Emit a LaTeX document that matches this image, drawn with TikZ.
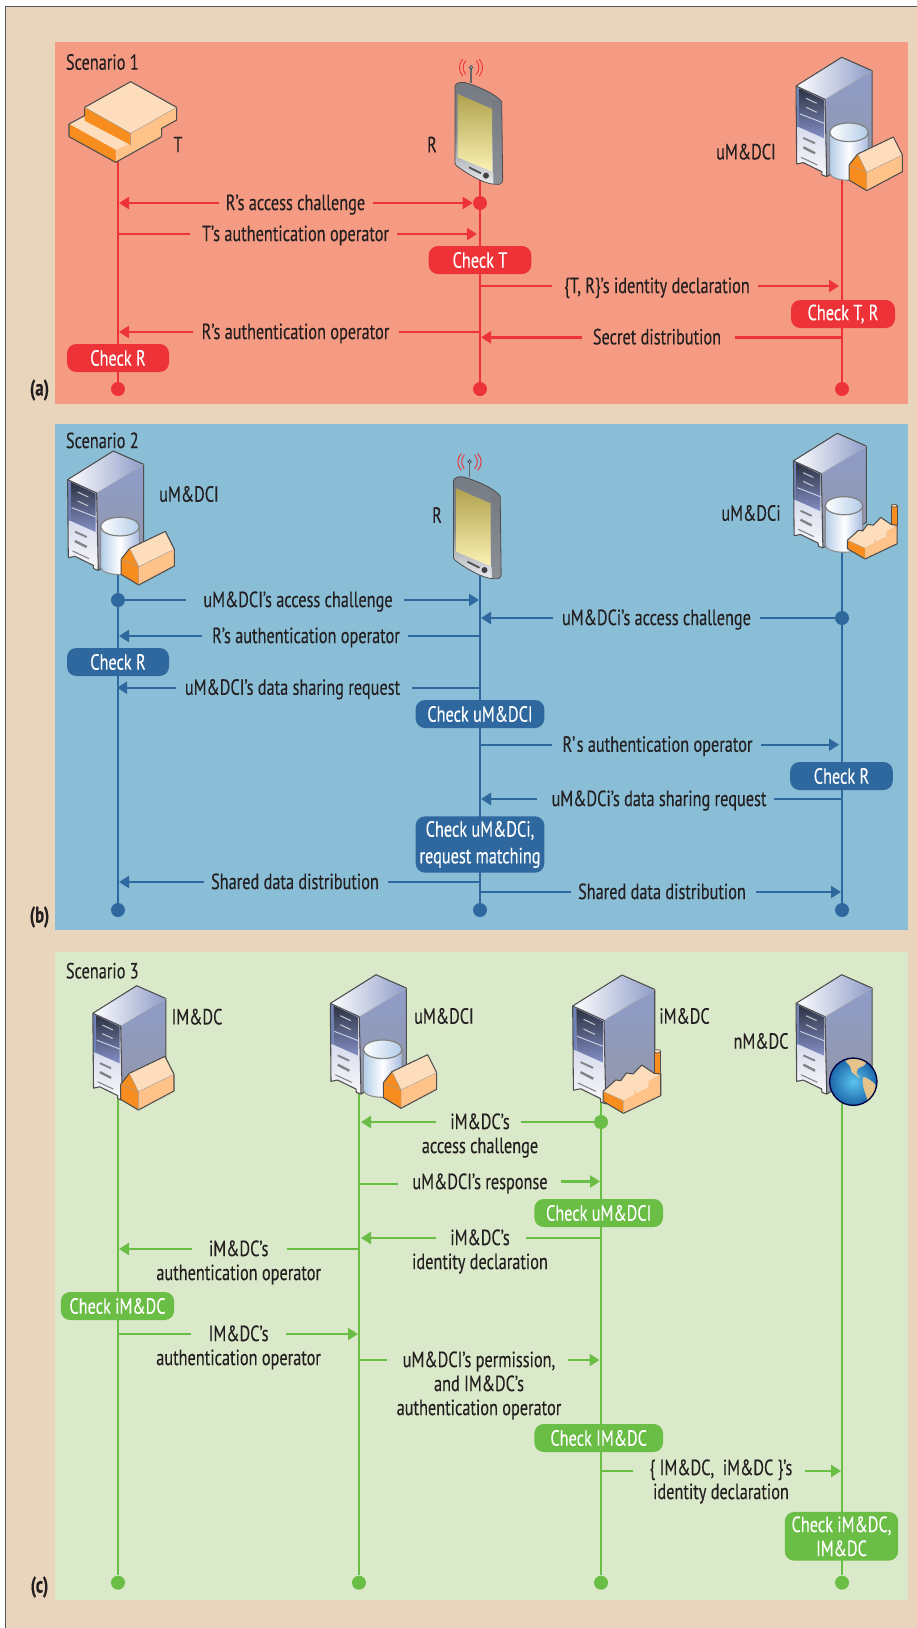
\documentclass[tikz,border=0pt]{standalone}
\usepackage{fontspec}
\setmainfont{PT Sans}[FakeStretch=0.74,FakeBold=0.15]
\usetikzlibrary{arrows.meta}
\definecolor{pagebg}{HTML}{E9D5BC}
\definecolor{framec}{HTML}{58595B}
\definecolor{panela}{HTML}{F59B84}
\definecolor{panelb}{HTML}{8ABDD6}
\definecolor{panelc}{HTML}{DAE9C9}
\definecolor{reda}{HTML}{EE3338}
\definecolor{blueb}{HTML}{2E689F}
\definecolor{greenc}{HTML}{6ABD45}
\definecolor{inkc}{HTML}{231F20}
\definecolor{edgec}{HTML}{4D4D4D}
\definecolor{orangec}{HTML}{F78D1E}
\definecolor{sidec}{HTML}{FFC288}
\definecolor{topc}{HTML}{FDDDBB}
\definecolor{srvtop}{RGB}{142,156,200}
\definecolor{srvbot}{RGB}{147,151,168}
\definecolor{srvfa}{RGB}{190,196,226}
\definecolor{srvfb}{RGB}{248,248,250}
\definecolor{srvstrip}{RGB}{112,130,186}
\definecolor{srvda}{RGB}{44,50,66}
\definecolor{srvdb}{RGB}{132,144,198}
\definecolor{srvln}{RGB}{205,210,230}
\definecolor{srvsl}{RGB}{192,196,204}
\definecolor{srvgr}{RGB}{128,130,133}
\definecolor{cyla}{RGB}{178,204,232}
\definecolor{cylb}{RGB}{165,186,224}
\definecolor{globea}{RGB}{90,195,236}
\definecolor{globeb}{RGB}{28,104,172}
\definecolor{landc}{RGB}{229,195,138}
\definecolor{phonea}{RGB}{118,122,130}
\definecolor{phoneb}{RGB}{130,134,142}
\definecolor{phonec}{RGB}{236,238,240}
\definecolor{phoned}{RGB}{140,145,152}
\definecolor{scra}{RGB}{176,162,78}
\definecolor{scrb}{RGB}{251,242,180}
\newcommand{\lblnode}[4]{\node[lbl] (#1) at (#2,{#3-10}) {\rule{0pt}{12.6pt}#4};}
\newcommand{\msgto}[6]{% id, start x, gap x 1, gap x 2, tip x, y
  \coordinate (#1a) at (#2,#6); \coordinate (#1b) at (#3,#6);
  \coordinate (#1c) at (#4,#6); \coordinate (#1d) at (#5,#6);
  \draw[msgline] (#1a) -- (#1b);
  \draw[msgline,-{Triangle[length=7.5pt,width=9pt]}] (#1c) -- (#1d);}
\tikzset{
  lbl/.style={inner sep=0pt,align=center,text=inkc,font=\fontsize{16.5}{18}\selectfont,anchor=north},
  namelbl/.style={inner sep=0pt,text=inkc,font=\fontsize{16.5}{18}\selectfont},
  tag/.style={inner sep=0pt,text=inkc,font=\fontsize{17}{18}\selectfont\bfseries},
  pill/.style={rectangle,rounded corners=7pt,inner sep=0pt,fill=#1,text=white,align=center,font=\fontsize{16.5}{18}\selectfont},
  enddot/.style={circle,fill=#1,inner sep=0pt,minimum size=10.5pt},
  msgline/.style={line width=1.8pt},
  life/.style={line width=2.1pt},
  icon/.style={line width=.8pt,draw=edgec,line join=round},
  iconserver/.pic={\begin{scope}[x=.25pt,y=-.25pt,shift={(-425,-52)}]
    \shade[left color=white,right color=srvtop] (288,138)--(425,52)--(516,92)--(375,178)--cycle;
    \shade[top color=srvtop,bottom color=srvbot] (375,178)--(516,92)--(516,330)--(380,410)--cycle;
    \shade[top color=srvfa,bottom color=srvfb] (288,138)--(375,178)--(380,410)--(366,405)--(365,395)--(310,368)--(290,372)--cycle;
    \fill[srvstrip] (289,140)--(298,145)--(298,262)--(289,260)--cycle;
    \shade[top color=srvda,bottom color=srvdb] (298,145)--(372,180)--(372,295)--(298,262)--cycle;
    \draw[line width=.7pt,srvln] (300,222)--(372,250);
    \draw[line width=.8pt,srvsl] (318,175)--(350,190) (318,202)--(350,217);
    \draw[line width=1.4pt,srvgr] (310,294)--(345,310);
    \draw[line width=1.8pt,srvgr] (310,322)--(345,340);
    \draw[line width=.8pt,srvgr] (303,352)--(352,375);
    \draw[icon] (288,138)--(425,52)--(516,92)--(516,330)--(380,410)--(366,405)--(365,395)--(310,368)--(290,372)--cycle;
    \draw[icon] (288,138)--(375,178)--(380,410);
    \draw[line width=.3pt,draw=white!70!black] (375,178)--(516,92);
  \end{scope}},
  iconcyl/.pic={\begin{scope}[x=.25pt,y=-.25pt,shift={(-447,-277)}]
    \shade[left color=cyla,right color=cylb,middle color=white]
      (389,277)--(389,400) .. controls (395,428) and (499,428) .. (505,400)--(505,277)--cycle;
    \draw[line width=.8pt,draw=black!45] (389,277)--(389,400) .. controls (395,428) and (499,428) .. (505,400)--(505,277);
    \shade[left color=white,right color=cyla,draw=black!50,line width=.9pt] (447,277) ellipse[x radius=58,y radius=28];
  \end{scope}},
  iconhouse/.pic={\begin{scope}[x=.25pt,y=-.25pt,shift={(-500,-452)}]
    \fill[sidec] (500,397)--(607,345)--(607,395)--(500,452)--cycle;
    \fill[topc] (473,342)--(580,291)--(607,345)--(500,397)--cycle;
    \fill[orangec] (447,375)--(473,342)--(500,397)--(500,452)--(447,420)--cycle;
    \draw[icon] (447,375)--(473,342)--(580,291)--(607,345)--(607,395)--(500,452)--(447,420)--cycle;
    \draw[line width=.3pt,draw=black!40] (473,342)--(500,397)--(607,345) (500,397)--(500,452) (447,375)--(500,397);
  \end{scope}},
  iconfactory/.pic={\begin{scope}[x=.25pt,y=-.25pt,shift={(-103,-218)}]
    \fill[orangec,draw=edgec,line width=.5pt] (195,32)--(195,105)--(215,105)--(215,32)--cycle;
    \fill[topc,draw=edgec,line width=.5pt] (205,32) ellipse[x radius=10,y radius=5];
    \fill[topc] (42,152)--(80,118)--(95,120)--(112,97)--(132,100)--(158,73)--(195,98)--(215,100)--(178,122)--(178,140)--(143,158)--(137,148)--(135,162)--(103,180)--cycle;
    \fill[sidec] (103,180)--(135,162)--(137,148)--(143,158)--(178,140)--(178,122)--(215,100)--(215,165)--(103,218)--cycle;
    \fill[orangec] (42,152)--(103,180)--(103,218)--(42,182)--cycle;
    \draw[icon] (42,152)--(80,118)--(95,120)--(112,97)--(132,100)--(158,73)--(195,98)--(215,100)--(215,165)--(103,218)--(42,182)--cycle;
    \draw[line width=.3pt,draw=black!30] (42,152)--(103,180)--(103,218);
  \end{scope}},
  iconglobe/.pic={\begin{scope}[x=.25pt,y=-.25pt,shift={(-460,-425)}]
    \shade[inner color=globea,outer color=globeb] (460,425) circle[radius=71];
    \fill[landc] plot[smooth cycle,tension=.6] coordinates {(438,362) (470,355) (498,366) (490,378) (475,385) (470,400) (482,414) (468,406) (455,395) (450,378)};
    \fill[landc] plot[smooth cycle,tension=.6] coordinates {(490,412) (510,420) (527,436) (520,460) (505,482) (498,465) (490,440)};
    \draw[line width=1pt,draw=black!75!blue] (460,425) circle[radius=71];
  \end{scope}},
  iconphone/.pic={\begin{scope}[x=.25pt,y=-.25pt,shift={(-213,-82)}]
    \draw[line width=.8pt,draw=black!60] (213,85)--(213,128);
    \shade[top color=phonea,bottom color=phonec,middle color=phoneb]
      (165,140) .. controls (165,130) and (180,125) .. (195,128) .. controls (240,140) and (290,165) .. (305,185)--(308,420) .. controls (308,430) and (300,435) .. (285,433) .. controls (250,432) and (200,400) .. (170,378) .. controls (165,375) and (165,372) .. (165,365)--cycle;
    \shade[top color=phonea,bottom color=phoned] (278,180)--(305,185)--(308,420) .. controls (308,430) and (295,434) .. (280,432)--cycle;
    \shade[top color=scra,bottom color=scrb] (173,162)--(276,207)--(276,395)--(173,352)--cycle;
    \draw[line width=1.4pt,draw=black!70] (207,382)--(243,400);
    \fill[black!75] (258,407) circle[radius=9];
    \draw[line width=.6pt,draw=edgec] (165,140) .. controls (165,130) and (180,125) .. (195,128) .. controls (240,140) and (290,165) .. (305,185)--(308,420) .. controls (308,430) and (300,435) .. (285,433) .. controls (250,432) and (200,400) .. (170,378) .. controls (165,375) and (165,372) .. (165,365)--cycle;
    \filldraw[fill=cyla,draw=black!70,line width=.6pt] (213,82) circle[radius=5];
    \draw[line width=.7pt,draw=reda,line cap=round] (197,62) .. controls (187,75) and (187,90) .. (197,103);
    \draw[line width=.7pt,draw=reda,line cap=round] (188,58) .. controls (175,73) and (175,92) .. (188,108);
    \draw[line width=.7pt,draw=reda,line cap=round] (229,62) .. controls (239,75) and (239,90) .. (229,103);
    \draw[line width=.7pt,draw=reda,line cap=round] (238,58) .. controls (251,73) and (251,92) .. (238,108);
  \end{scope}},
  icontile/.pic={\begin{scope}[x=.25pt,y=-.25pt]
    \fill[sidec] (347,450)--(485,380)--(485,410)--(347,487)--cycle;
    \fill[topc] (207,372)--(254,347)--(392,430)--(347,450)--cycle;
    \fill[orangec] (207,372)--(347,450)--(347,487)--(207,410)--cycle;
    \fill[sidec] (392,400)--(530,322)--(530,360)--(485,385)--(392,435)--cycle;
    \fill[topc] (392,245)--(530,322)--(392,400)--(254,322)--cycle;
    \fill[orangec] (254,322)--(392,400)--(392,435)--(254,362)--cycle;
    \draw[icon] (254,322)--(392,245)--(530,322)--(530,360)--(485,385)--(485,410)--(347,487)--(207,410)--(207,372)--(254,347)--cycle;
    \draw[line width=.3pt,draw=black!40] (254,322)--(392,400)--(530,322) (392,400)--(392,435);
  \end{scope}},
}
\begin{document}
\begin{tikzpicture}[x=.75pt,y=-.75pt]
\useasboundingbox (0,0) rectangle (917,1628);
\fill[white] (0,0) rectangle (917,1628);
\fill[pagebg] (5.5,6.5) rectangle (917,1628);
\draw[framec,line width=1.2pt] (5.5,1628)--(5.5,6.5)--(917,6.5);
\fill[panela] (55,42) rectangle (908,404);
\fill[panelb] (55,423.5) rectangle (908,930);
\fill[panelc] (55,951.7) rectangle (908,1600);

%%% Panel A
\node[enddot=reda] (aTend) at (118,389) {};
\node[enddot=reda] (aRend) at (480,389) {};
\node[enddot=reda] (aUend) at (842,389) {};
\coordinate (aTtop) at (118,160); \coordinate (aRtop) at (480,180); \coordinate (aUtop) at (842,170);
\draw[life,reda] (aTtop)--(aTend); \draw[life,reda] (aRtop)--(aRend); \draw[life,reda] (aUtop)--(aUend);
\node[enddot=reda] (aRstart) at (480,203) {};
\begin{scope}[reda]
\coordinate (am1a) at (219,203); \coordinate (am1d) at (119,203); \coordinate (am1c) at (373,203);
\draw[msgline,-{Triangle[length=7.5pt,width=9pt]}] (am1a)--(am1d);
\draw[msgline,-{Triangle[length=7.5pt,width=9pt]}] (am1c)--(aRstart.west);
\msgto{am2}{118}{190}{397}{477}{234}
\msgto{am3}{480}{399}{193}{119}{332}
\msgto{am4}{480}{552}{758}{839}{286}
\msgto{am5}{842}{735}{582}{481}{337.3}
\end{scope}
\node[pill=reda,minimum width=76.5pt,minimum height=21pt] (aChkR) at (118,358) {Check R};
\node[pill=reda,minimum width=77pt,minimum height=21pt] (aChkT) at (480,260) {Check T};
\node[pill=reda,minimum width=78pt,minimum height=21pt] (aChkTR) at (843,314) {Check T, R};
\lblnode{al1}{295.5}{203}{R’s access challenge}
\lblnode{al2}{295.5}{234}{T’s authentication operator}
\lblnode{al3}{295.5}{332}{R’s authentication operator}
\lblnode{al4}{657}{286}{\{T, R\}’s identity declaration}
\lblnode{al5}{657}{337.3}{Secret distribution}
\node[namelbl] (anT) at (178,144.5) {T};
\node[namelbl] (anR) at (432,144.5) {R};
\node[namelbl] (anU) at (746,151.7) {uM\&DCI};
\node[namelbl,anchor=west] (asc) at (65.7,62) {Scenario 1};
\node[tag] (atag) at (39.5,390) {(a)};
\pic at (0,0) {icontile};
\pic at (471,67.3) {iconphone};
\pic at (841.7,57.3) {iconserver};
\pic at (849,132.3) {iconcyl};
\pic at (866.7,190.7) {iconhouse};

%%% Panel B
\node[enddot=blueb] (bLend) at (118,910) {};
\node[enddot=blueb] (bRend) at (480,910) {};
\node[enddot=blueb] (bIend) at (842,910) {};
\coordinate (bLtop) at (118,570); \coordinate (bRtop) at (480,570); \coordinate (bItop) at (842,545);
\draw[life,blueb] (bLtop)--(bLend); \draw[life,blueb] (bRtop)--(bRend); \draw[life,blueb] (bItop)--(bIend);
\node[enddot=blueb] (bLstart) at (118,600) {};
\node[enddot=blueb] (bIstart) at (842,618) {};
\begin{scope}[blueb]
\msgto{bm1}{118}{186}{404}{479}{600}
\msgto{bm2}{842}{760}{553}{481}{618}
\msgto{bm3}{480}{408}{202}{119}{636}
\msgto{bm4}{480}{412}{176}{117}{687.7}
\msgto{bm5}{480}{552}{761}{839}{744.7}
\msgto{bm6}{842}{774}{537}{481}{799}
\msgto{bm7}{480}{388}{204}{119}{882}
\msgto{bm8}{480}{571}{756}{841}{892}
\end{scope}
\node[pill=blueb,minimum width=76.5pt,minimum height=21pt] (bChkR) at (118,662) {Check R};
\node[pill=blueb,minimum width=96.5pt,minimum height=21pt] (bChkU) at (480,714) {Check uM\&DCI};
\node[pill=blueb,minimum width=77pt,minimum height=21pt] (bChkR2) at (841.5,776) {Check R};
\node[pill=blueb,minimum width=96.5pt,minimum height=42.3pt] (bChkI) at (480,844.5) {Check uM\&DCi,\\[2pt]request matching};
\lblnode{bl1}{298}{600}{uM\&DCI’s access challenge}
\lblnode{bl2}{656.5}{618}{uM\&DCi’s access challenge}
\lblnode{bl3}{306}{636}{R’s authentication operator}
\lblnode{bl4}{292.5}{687.7}{uM\&DCI’s data sharing request}
\lblnode{bl5}{657.5}{744.7}{R’\kern1pt s authentication operator}
\lblnode{bl6}{659}{799}{uM\&DCi’s data sharing request}
\lblnode{bl7}{295}{882}{Shared data distribution}
\lblnode{bl8}{662}{892}{Shared data distribution}
\node[namelbl] (bnU) at (189,494) {uM\&DCI};
\node[namelbl] (bnR) at (437,515) {R};
\node[namelbl] (bnI) at (751,513) {uM\&DCi};
\node[namelbl,anchor=west] (bsc) at (65.7,440.4) {Scenario 2};
\node[tag] (btag) at (39.5,917) {(b)};
\pic at (113.3,451) {iconserver};
\pic at (120,526.6) {iconcyl};
\pic at (138.7,585) {iconhouse};
\pic at (469.5,461.7) {iconphone};
\pic[scale=.96] at (837.3,433.3) {iconserver};
\pic[scale=.97] at (844,505.7) {iconcyl};
\pic[scale=.86] at (865,559) {iconfactory};

%%% Panel C
\node[enddot=greenc] (cAend) at (118,1582.7) {};
\node[enddot=greenc] (cBend) at (359,1582.7) {};
\node[enddot=greenc] (cCend) at (601,1582.7) {};
\node[enddot=greenc] (cDend) at (842,1582.7) {};
\coordinate (cAtop) at (118,1090); \coordinate (cBtop) at (359,1090); \coordinate (cCtop) at (601,1090); \coordinate (cDtop) at (842,1090);
\draw[life,greenc] (cAtop)--(cAend); \draw[life,greenc] (cBtop)--(cBend); \draw[life,greenc] (cCtop)--(cCend); \draw[life,greenc] (cDtop)--(cDend);
\node[enddot=greenc] (cCstart) at (601,1122) {};
\begin{scope}[greenc]
\msgto{cm1}{601}{520.7}{435.7}{361}{1122}
\coordinate (cm2a) at (359,1184); \coordinate (cm2b) at (398,1184); \coordinate (cm2c) at (561,1181.5); \coordinate (cm2d) at (600,1181.5);
\draw[msgline] (cm2a)--(cm2b);
\draw[msgline,-{Triangle[length=7.5pt,width=9pt]}] (cm2c)--(cm2d);
\msgto{cm3}{601}{526}{436}{361}{1238}
\msgto{cm4}{359}{287}{192}{119}{1249}
\msgto{cm5}{118}{191}{286}{358}{1334}
\msgto{cm6}{359}{387}{568}{599.5}{1360}
\msgto{cm7}{601}{633}{805}{841}{1471}
\end{scope}
\node[pill=greenc,minimum width=96.5pt,minimum height=21pt] (cChkU) at (598.7,1213) {Check uM\&DCI};
\node[pill=greenc,minimum width=85pt,minimum height=21pt] (cChkI) at (117.5,1306) {Check iM\&DC};
\node[pill=greenc,minimum width=96.5pt,minimum height=21pt] (cChkL) at (598.7,1438) {Check IM\&DC};
\node[pill=greenc,minimum width=85pt,minimum height=36.5pt] (cChkN) at (841.5,1536.3) {Check iM\&DC,\\IM\&DC};
\lblnode{cl1}{480}{1122}{iM\&DC’s\\access challenge}
\lblnode{cl2}{480}{1182}{uM\&DCI’s response}
\lblnode{cl3}{480}{1238}{iM\&DC’s\\identity declaration}
\lblnode{cl4}{238.7}{1249}{iM\&DC’s\\authentication operator}
\lblnode{cl5}{238.6}{1334}{IM\&DC’s\\authentication operator}
\lblnode{cl6}{479}{1360}{uM\&DCI’s permission,\\and IM\&DC’s\\authentication operator}
\lblnode{cl7}{721}{1468}{\{ IM\&DC,\ \ iM\&DC \}’s\\identity declaration}
\node[namelbl] (cnA) at (197,1016.7) {IM\&DC};
\node[namelbl] (cnB) at (444,1016) {uM\&DCI};
\node[namelbl] (cnC) at (684.5,1016) {iM\&DC};
\node[namelbl] (cnD) at (761,1041) {nM\&DC};
\node[namelbl,anchor=west] (csc) at (65.7,970.7) {Scenario 3};
\node[tag] (ctag) at (39.5,1587) {(c)};
\pic[scale=.96] at (136.7,985.7) {iconserver};
\pic at (138.3,1110) {iconhouse};
\pic at (376,974.7) {iconserver};
\pic at (382.7,1049.3) {iconcyl};
\pic at (401,1108.3) {iconhouse};
\pic[scale=1.08] at (622,975) {iconserver};
\pic at (623.4,1113.3) {iconfactory};
\pic at (841.7,974.7) {iconserver};
\pic at (853.3,1081.7) {iconglobe};
\end{tikzpicture}
\end{document}
